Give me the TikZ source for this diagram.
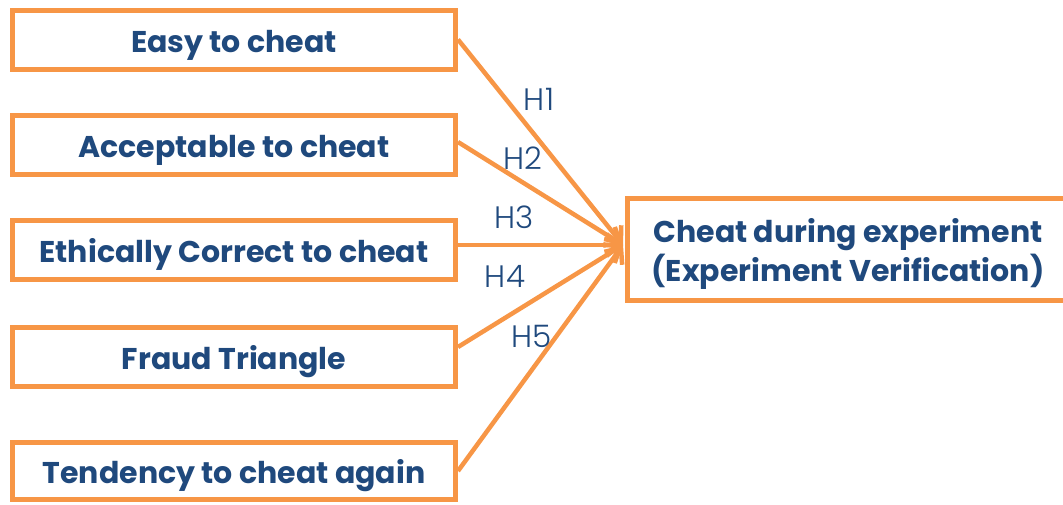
\documentclass[tikz,border=0pt]{standalone}
\usepackage{fontspec}
\setmainfont{Poppins}
\newfontfamily\lightfont{Poppins Light}
\usetikzlibrary{arrows.meta,calc}
\definecolor{borange}{HTML}{F79646}
\definecolor{tblue}{HTML}{1F497D}
\tikzset{
  lbox/.style={draw=borange, line width=5pt, fill=white, inner sep=0pt,
    minimum width=443pt, minimum height=59pt, text=tblue,
    font=\fontsize{30}{36}\selectfont\bfseries, text height=25pt, text depth=0pt},
  rbox/.style={draw=borange, line width=5pt, fill=white, inner sep=0pt,
    minimum width=441pt, minimum height=102pt, text=tblue, align=center,
    font=\fontsize{30}{39}\selectfont\bfseries},
  conn/.style={draw=borange, line width=4.5pt, -{Straight Barb[length=13pt,width=22pt]}},
  hlab/.style={text=tblue, font=\fontsize{31}{36}\lightfont, inner sep=0pt}
}
\begin{document}
\begin{tikzpicture}[x=1pt,y=-1pt]
\useasboundingbox (0,0) rectangle (1063,504);
\node[lbox] (b1) at (234,39.5) {Easy to cheat};
\node[lbox] (b2) at (234,145) {Acceptable to cheat};
\node[lbox] (b3) at (234,250) {Ethically Correct to cheat};
\node[lbox] (b4) at (234,357) {Fraud Triangle};
\node[lbox, minimum height=57pt] (b5) at (234,471) {Tendency to cheat again};
\node[rbox] (r) at (848,249.5) {\rule{0pt}{32pt}Cheat during experiment\\(Experiment Verification)};
\coordinate (t) at (623,245);
\draw[conn] (b1.east) -- (t);
\draw[conn] ([yshift=3pt]b2.east) -- (t);
\draw[conn] (b3.east |- t) -- (t);
\draw[conn] ([yshift=10pt]b4.east) -- (t);
\draw[conn] (b5.east) -- (t);
\node[hlab] (h1) at (539,99) {H1};
\node[hlab] (h2) at (523,158) {H2};
\node[hlab] (h3) at (514,217) {H3};
\node[hlab] (h4) at (505,276) {H4};
\node[hlab] (h5) at (532,336) {H5};
\end{tikzpicture}
\end{document}
